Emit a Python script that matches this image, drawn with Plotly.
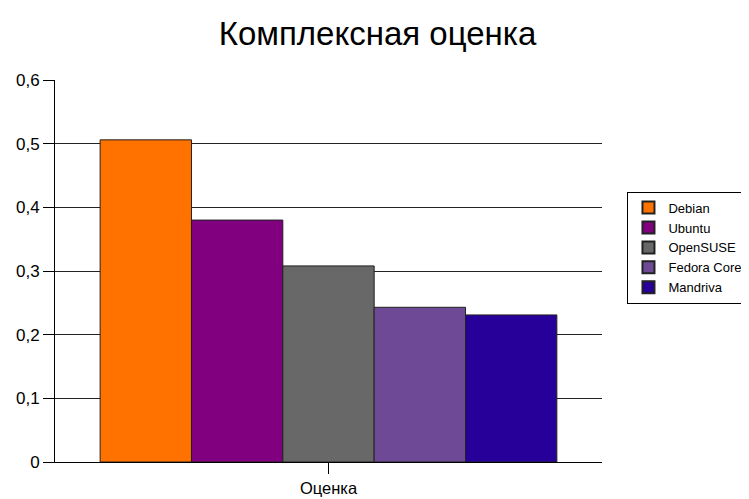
import plotly.graph_objects as go

title = "Комплексная оценка"
category = ["Оценка"]
distros = ["Debian", "Ubuntu", "OpenSUSE", "Fedora Core", "Mandriva"]
scores = [0.506, 0.380, 0.308, 0.243, 0.231]
colors = ["#FF7200", "#800080", "#686868", "#6E4A96", "#270099"]
ytick_vals = [0, 0.1, 0.2, 0.3, 0.4, 0.5, 0.6]
ytick_text = ["0", "0,1", "0,2", "0,3", "0,4", "0,5", "0,6"]

font = "Liberation Sans, Arial, sans-serif"

fig = go.Figure()
for name, val, col in zip(distros, scores, colors):
    fig.add_trace(go.Bar(
        x=category, y=[val], name=name,
        marker=dict(color=col, line=dict(color="#222222", width=1)),
    ))

fig.update_layout(
    width=741, height=491,
    margin=dict(l=47, r=147, t=72, b=37),
    paper_bgcolor="white", plot_bgcolor="white",
    barmode="group", bargap=0.165, bargroupgap=0,
    font=dict(family=font, size=16.5, color="black"),
    title=dict(text=title, x=0.4987, xanchor="center", y=0.949, yanchor="middle",
               font=dict(family=font, size=33, color="black")),
    showlegend=True,
    legend=dict(xref="container", yref="container", x=0.836, y=0.626,
                xanchor="left", yanchor="top",
                bordercolor="black", borderwidth=1, bgcolor="white",
                font=dict(family=font, size=13, color="black"),
                itemsizing="constant", tracegroupgap=0),
    xaxis=dict(showline=True, linecolor="black", linewidth=1,
               ticks="outside", ticklen=11, tickcolor="black",
               tickfont=dict(size=16.5), showgrid=False, automargin=False),
    yaxis=dict(range=[0, 0.6], tickvals=ytick_vals, ticktext=ytick_text,
               showline=True, linecolor="black", linewidth=1,
               ticks="outside", ticklen=11, tickcolor="black",
               showgrid=True, gridcolor="#222222", gridwidth=1,
               zeroline=False, tickfont=dict(size=17), automargin=False),
)

fig.write_html("out.html")
